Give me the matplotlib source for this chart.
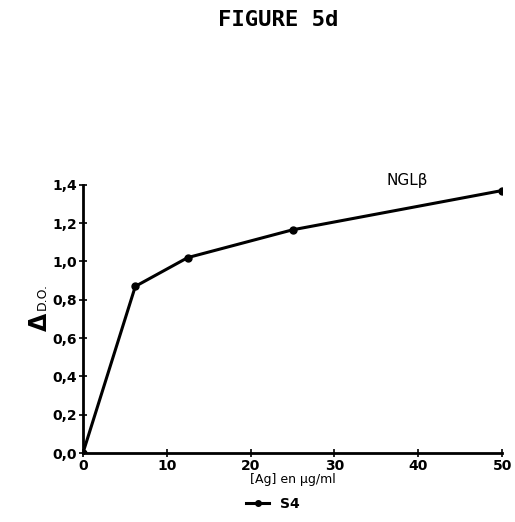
import matplotlib.pyplot as plt
from matplotlib.lines import Line2D

conc = [0, 6.25, 12.5, 25, 50]
s4 = [0.0, 0.87, 1.02, 1.165, 1.37]
xticks = [0, 10, 20, 30, 40, 50]
yticks = [0.0, 0.2, 0.4, 0.6, 0.8, 1.0, 1.2, 1.4]
ylabels = ["0,0", "0,2", "0,4", "0,6", "0,8", "1,0", "1,2", "1,4"]

fig = plt.figure(figsize=(5.15, 5.22), dpi=100)
ax = fig.add_axes([0.161, 0.132, 0.814, 0.514])

ax.plot(conc, s4, color="black", lw=2.2, marker="o", ms=5)

ax.set_xlim(0, 50)
ax.set_ylim(0, 1.4)
ax.set_xticks(xticks)
ax.set_xticklabels([str(t) for t in xticks], fontweight="bold", fontsize=10)
ax.set_yticks(yticks)
ax.set_yticklabels(ylabels, fontweight="bold", fontsize=10)
ax.tick_params(direction="inout", length=6, width=1.2, pad=1)
for s in ["top", "right"]:
    ax.spines[s].set_visible(False)
for s in ["left", "bottom"]:
    ax.spines[s].set_linewidth(2)

ax.set_xlabel("[Ag] en µg/ml", fontsize=9, labelpad=0)
ax.text(-0.103, 0.49, r"$\mathbf{\Delta}$", transform=ax.transAxes, rotation=90,
        fontsize=17, ha="center", va="center")
ax.text(-0.098, 0.585, "D.O.", transform=ax.transAxes, rotation=90,
        fontsize=9, ha="center", va="center")

fig.text(0.54, 0.962, "FIGURE 5d", fontsize=16, fontweight="bold",
         family="DejaVu Sans Mono", ha="center", va="center")
fig.text(0.79, 0.655, "NGLβ", fontsize=11, ha="center", va="center")

h = Line2D([], [], color="black", lw=2.2, marker="o", ms=4)
fig.legend([h], ["S4"], loc="center", bbox_to_anchor=(0.53, 0.035),
           frameon=False, handlelength=1.6, fontsize=10, prop={"weight": "bold"})

fig.savefig("out.png", dpi=100)
